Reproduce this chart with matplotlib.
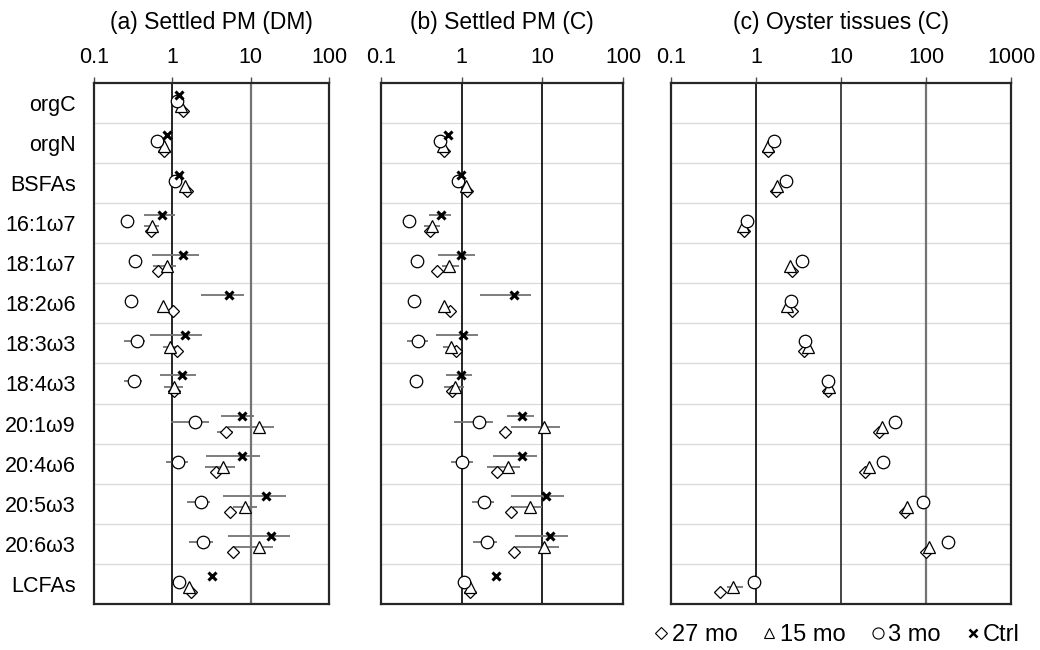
import numpy as np
import matplotlib.pyplot as plt
from matplotlib.lines import Line2D

plt.rcParams['font.family'] = ['Liberation Sans', 'DejaVu Sans']

nan = np.nan

# categories (top to bottom)
labels = ["orgC", "orgN", "BSFAs", "16:1ω7", "18:1ω7", "18:2ω6", "18:3ω3",
          "18:4ω3", "20:1ω9", "20:4ω6", "20:5ω3", "20:6ω3", "LCFAs"]

# ---------- (a) Settled PM (DM) ----------
a_ctrl = [1.21, 0.85, 1.22, 0.74, 1.38, 5.27, 1.45, 1.34, 7.66, 7.8, 15.9, 18.1, 3.23]
a_ctrl_lo = [nan, nan, 1.12, 0.43, 0.55, 2.32, 0.52, 0.70, 4.17, 2.68, 4.47, 5.1, nan]
a_ctrl_hi = [nan, nan, 1.35, 1.09, 2.19, 8.26, 2.36, 1.98, 11.1, 13.1, 27.9, 31.6, nan]
a_3mo = [1.16, 0.63, 1.08, 0.26, 0.33, 0.30, 0.35, 0.32, 1.96, 1.19, 2.3, 2.48, 1.22]
a_3mo_lo = [nan, nan, nan, nan, nan, nan, 0.24, 0.24, 0.95, 0.83, 1.55, 1.61, nan]
a_3mo_hi = [nan, nan, nan, nan, nan, nan, 0.45, 0.41, 2.96, 1.57, 3.0, 3.3, nan]
a_15mo = [1.29, 0.78, 1.45, 0.55, 0.85, 0.75, 0.93, 1.06, 12.6, 4.47, 8.4, 12.7, 1.64]
a_15mo_lo = [nan, nan, nan, 0.44, 0.57, nan, 0.75, 0.78, 5.16, 2.6, 6.0, 6.0, nan]
a_15mo_hi = [nan, nan, nan, 0.68, 1.13, nan, 1.15, 1.35, 19.9, 6.4, 11.9, 19.4, nan]
a_27mo = [1.35, 0.79, 1.52, 0.54, 0.66, 1.01, 1.16, 1.05, 4.79, 3.6, 5.4, 6.0, 1.71]
a_27mo_lo = [nan, nan, nan, nan, nan, nan, nan, nan, 3.67, nan, nan, nan, nan]
a_27mo_hi = [nan, nan, nan, nan, nan, nan, nan, nan, 6.0, nan, nan, nan, nan]

# ---------- (b) Settled PM (C) ----------
b_ctrl = [nan, 0.68, 0.97, 0.55, 0.98, 4.42, 1.03, 0.97, 5.66, 5.55, 11.2, 12.6, 2.63]
b_ctrl_lo = [nan, nan, nan, 0.39, 0.51, 1.68, 0.48, 0.64, 3.65, 2.46, 4.14, 4.64, nan]
b_ctrl_hi = [nan, nan, nan, 0.74, 1.46, 7.3, 1.58, 1.34, 7.8, 8.7, 18.3, 20.7, nan]
b_3mo = [nan, 0.54, 0.91, 0.22, 0.28, 0.26, 0.29, 0.27, 1.65, 1.02, 1.9, 2.07, 1.08]
b_3mo_lo = [nan, nan, nan, nan, nan, nan, 0.21, nan, 0.80, 0.73, 1.34, 1.39, nan]
b_3mo_hi = [nan, nan, nan, nan, nan, nan, 0.38, nan, 2.46, 1.39, 2.5, 2.75, nan]
b_15mo = [nan, 0.59, 1.12, 0.43, 0.70, 0.60, 0.74, 0.83, 10.4, 3.7, 6.97, 10.4, 1.26]
b_15mo_lo = [nan, nan, nan, 0.34, 0.57, nan, 0.59, 0.60, 4.06, 2.07, 4.33, 4.77, nan]
b_15mo_hi = [nan, nan, nan, 0.54, 0.93, nan, 0.91, 1.08, 16.7, 5.25, 9.9, 16.0, nan]
b_27mo = [nan, 0.60, 1.17, 0.40, 0.49, 0.72, 0.84, 0.76, 3.45, 2.75, 4.06, 4.42, 1.26]
b_27mo_lo = [nan, nan, nan, nan, nan, nan, nan, nan, 2.9, nan, nan, nan, nan]
b_27mo_hi = [nan, nan, nan, nan, nan, nan, nan, nan, 4.2, nan, nan, nan, nan]

# ---------- (c) Oyster tissues (C) ----------
c_3mo = [nan, 1.63, 2.23, 0.78, 3.5, 2.56, 3.77, 7.03, 43.5, 31.5, 91.4, 183, 0.95]
c_15mo = [nan, 1.37, 1.75, 0.71, 2.54, 2.3, 4.13, 7.3, 30, 21.1, 59.3, 109, 0.54]
c_15mo_lo = [nan] * 12 + [0.45]
c_15mo_hi = [nan] * 12 + [0.71]
c_27mo = [nan, 1.40, 1.72, 0.72, 2.68, 2.68, 3.67, 7.1, 28.2, 19.1, 56.6, 100, 0.38]

rows = np.arange(len(labels))
off = {"ctrl": -0.2, "3mo": -0.05, "15mo": 0.08, "27mo": 0.2}
mk = {
    "27mo": dict(marker="D", ms=6.5),
    "15mo": dict(marker="^", ms=9),
    "3mo": dict(marker="o", ms=9),
    "ctrl": dict(marker="x", ms=6, mew=2.2, color="black"),
}

fig = plt.figure(figsize=(10.4, 6.5), dpi=100)
H = 650.0
W = 1040.0
top, bot = 82.7, 604
ax_a = fig.add_axes([94 / W, 1 - bot / H, 235 / W, (bot - top) / H])
ax_b = fig.add_axes([381 / W, 1 - bot / H, 242 / W, (bot - top) / H])
ax_c = fig.add_axes([671 / W, 1 - bot / H, 340 / W, (bot - top) / H])


def draw_series(ax, key, vals, lo=None, hi=None):
    y = rows + off[key]
    vals = np.array(vals, dtype=float)
    if lo is not None:
        lo = np.array(lo, dtype=float)
        hi = np.array(hi, dtype=float)
        ok = ~np.isnan(lo)
        ax.hlines(y[ok], lo[ok], hi[ok], color="0.45", lw=1.3, zorder=3)
    style = dict(mk[key])
    if key == "ctrl":
        ax.plot(vals, y, ls="none", zorder=6, **style)
    else:
        ax.plot(vals, y, ls="none", mfc="white", mec="black", mew=0.9,
                zorder=5, **style)


def setup(ax, xmax, vlines, title):
    ax.set_xscale("log")
    ax.set_xlim(0.1, xmax)
    ax.set_ylim(len(labels) - 0.5, -0.5)
    for yy in np.arange(0.5, len(labels) - 1, 1.0):
        ax.axhline(yy, color="0.85", lw=0.9, zorder=1)
    for xv, col, lw in vlines:
        ax.axvline(xv, color=col, lw=lw, zorder=2)
    ax.xaxis.tick_top()
    ticks = [10.0 ** k for k in range(-1, int(round(np.log10(xmax))) + 1)]
    ax.set_xticks(ticks)
    ax.set_xticklabels([f"{t:g}" for t in ticks], fontsize=15.5)
    ax.minorticks_off()
    ax.tick_params(axis="x", direction="out", length=4.5, width=1, pad=6,
                   color="0.3")
    ax.set_yticks(rows)
    ax.set_yticklabels([])
    ax.tick_params(axis="y", length=0)
    for s in ax.spines.values():
        s.set_linewidth(1.6)
        s.set_color("0.15")
    pos = ax.get_position()
    fig.text(pos.x0 + pos.width / 2, 1 - 22 / H, title, ha="center",
             va="center", fontsize=16.5)


setup(ax_a, 100, [(1, "black", 1.2), (10, "0.45", 1.6)], "(a) Settled PM (DM)")
setup(ax_b, 100, [(1, "black", 1.2), (10, "black", 1.2)], "(b) Settled PM (C)")
setup(ax_c, 1000, [(1, "black", 1.2), (10, "0.15", 1.2), (100, "0.45", 1.6)],
      "(c) Oyster tissues (C)")

ax_a.set_yticklabels(labels, fontsize=15.5)
ax_a.tick_params(axis="y", pad=13)

draw_series(ax_a, "27mo", a_27mo, a_27mo_lo, a_27mo_hi)
draw_series(ax_a, "15mo", a_15mo, a_15mo_lo, a_15mo_hi)
draw_series(ax_a, "3mo", a_3mo, a_3mo_lo, a_3mo_hi)
draw_series(ax_a, "ctrl", a_ctrl, a_ctrl_lo, a_ctrl_hi)

draw_series(ax_b, "27mo", b_27mo, b_27mo_lo, b_27mo_hi)
draw_series(ax_b, "15mo", b_15mo, b_15mo_lo, b_15mo_hi)
draw_series(ax_b, "3mo", b_3mo, b_3mo_lo, b_3mo_hi)
draw_series(ax_b, "ctrl", b_ctrl, b_ctrl_lo, b_ctrl_hi)

draw_series(ax_c, "27mo", c_27mo)
draw_series(ax_c, "15mo", c_15mo, c_15mo_lo, c_15mo_hi)
draw_series(ax_c, "3mo", c_3mo)

# legend
handles = [
    Line2D([], [], ls="none", marker="D", ms=6, mfc="white", mec="black", mew=0.8),
    Line2D([], [], ls="none", marker="^", ms=7, mfc="white", mec="black", mew=0.8),
    Line2D([], [], ls="none", marker="o", ms=8, mfc="white", mec="black", mew=0.8),
    Line2D([], [], ls="none", marker="x", ms=6, color="black", mew=1.8),
]
fig.legend(handles, ["27 mo", "15 mo", "3 mo", "Ctrl"], loc="center right",
           bbox_to_anchor=(1020 / W, 15 / H), ncol=4, frameon=False, fontsize=17,
           handlelength=0.7, handletextpad=0.1, columnspacing=1.0,
           borderpad=0, borderaxespad=0)

fig.savefig("out.png", dpi=100)
